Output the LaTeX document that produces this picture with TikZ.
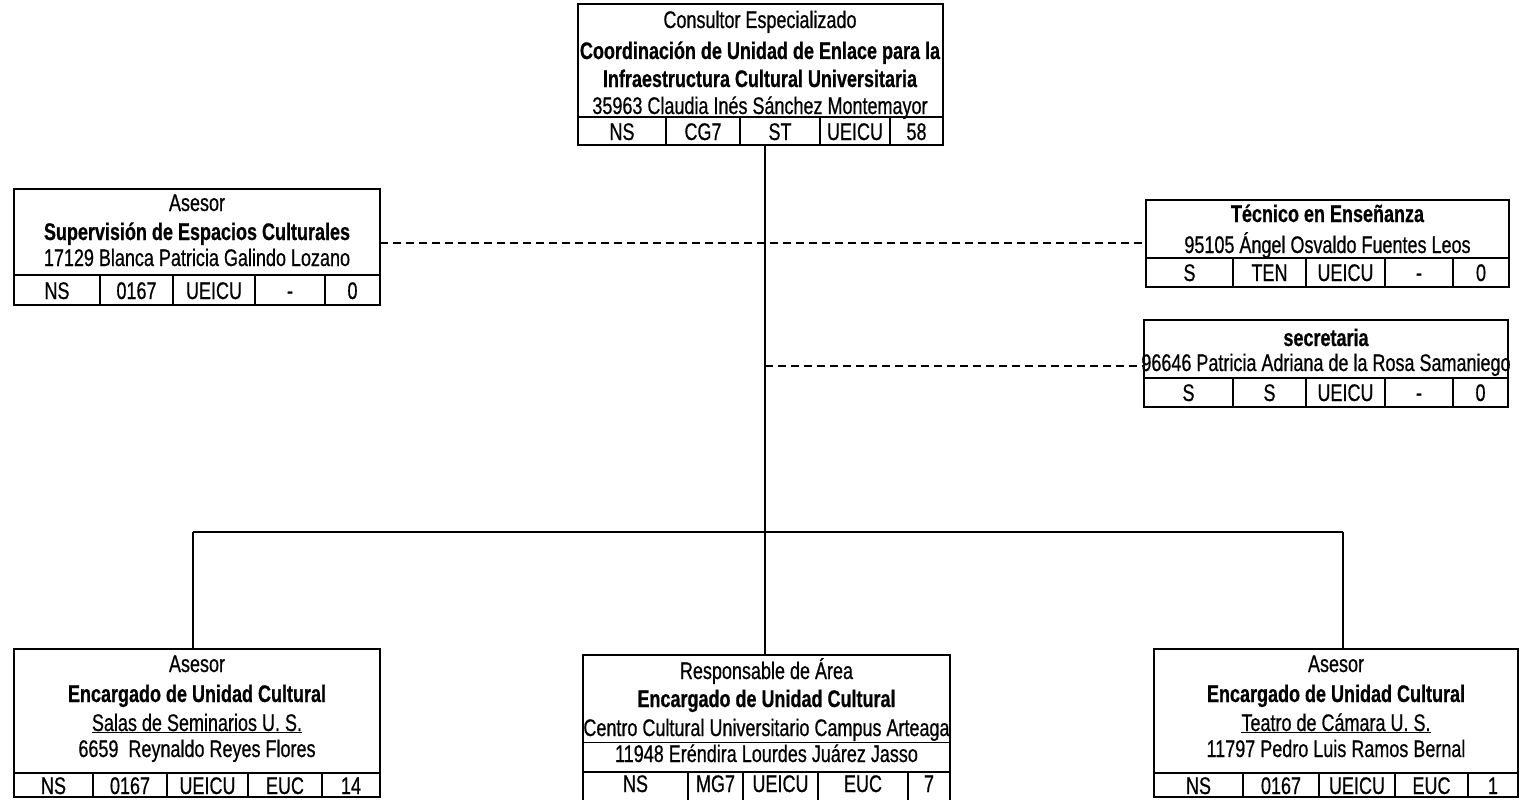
\documentclass[tikz,border=0pt]{standalone}
\usepackage{fontspec}
\setmainfont{Liberation Sans}[FakeStretch=0.75, UprightFeatures={FakeBold=0.6}, BoldFeatures={FakeBold=0.6}]
\begin{document}
\begin{tikzpicture}[x=1pt,y=-1pt,
  box/.style={draw, line width=2pt, inner sep=0pt, outer sep=0pt, anchor=north west},
  grid/.style={line width=1.6pt},
  conn/.style={line width=1.6pt},
  dconn/.style={line width=1.5pt, dash pattern=on 8pt off 5pt},
  t/.style={inner sep=0pt, anchor=base, font=\fontsize{24}{28}\selectfont},
  tb/.style={inner sep=0pt, anchor=base, font=\fontsize{24}{28}\selectfont\bfseries}]
\fill[white] (0,0) rectangle (1520,800);
\clip (0,0) rectangle (1520,800);
\useasboundingbox (0,0) rectangle (1520,800);

% ---------- boxes ----------
\node[box, minimum width=365, minimum height=141] (top) at (578,4) {};
\node[box, minimum width=366, minimum height=116] (adv) at (14,189) {};
\node[box, minimum width=363, minimum height=87] (tec) at (1146,200) {};
\node[box, minimum width=364, minimum height=87] (sec) at (1144,320) {};
\node[box, minimum width=366, minimum height=148] (bl) at (14,649) {};
\node[box, minimum width=367, minimum height=170] (bc) at (583,655) {};
\node[box, minimum width=364, minimum height=148] (br) at (1154,649) {};

% ---------- top box ----------
\draw[grid] (578,117) -- (943,117);
\foreach \x in {666,740,820,890} \draw[grid] (\x,117) -- (\x,145);
\node[t]  (top1) at (760,28)  {Consultor Especializado};
\node[tb] (top2) at (760,59)  {Coordinación de Unidad de Enlace para la};
\node[tb] (top3) at (760,87)  {Infraestructura Cultural Universitaria};
\node[t]  (top4) at (760,114) {35963 Claudia Inés Sánchez Montemayor};
\node[t] (topc1) at (622,140) {NS};
\node[t] (topc2) at (703,140) {CG7};
\node[t] (topc3) at (780,140) {ST};
\node[t] (topc4) at (855,140) {UEICU};
\node[t] (topc5) at (916.5,140) {58};

% ---------- asesor (supervision) ----------
\draw[grid] (14,275) -- (380,275);
\foreach \x in {100,173,255,325} \draw[grid] (\x,275) -- (\x,305);
\node[t]  (adv1) at (197,211) {Asesor};
\node[tb] (adv2) at (197,240) {Supervisión de Espacios Culturales};
\node[t]  (adv3) at (197,266) {17129 Blanca Patricia Galindo Lozano};
\node[t] (advc1) at (57,299) {NS};
\node[t] (advc2) at (136.5,299) {0167};
\node[t] (advc3) at (214,299) {UEICU};
\node[t] (advc4) at (290,299) {-};
\node[t] (advc5) at (352.5,299) {0};

% ---------- tecnico ----------
\draw[grid] (1146,258) -- (1509,258);
\foreach \x in {1233,1306,1385,1453} \draw[grid] (\x,258) -- (\x,287);
\node[tb] (tec1) at (1327.5,222) {Técnico en Enseñanza};
\node[t]  (tec2) at (1327.5,253) {95105 Ángel Osvaldo Fuentes Leos};
\node[t] (tecc1) at (1189.5,281) {S};
\node[t] (tecc2) at (1269.5,281) {TEN};
\node[t] (tecc3) at (1345.5,281) {UEICU};
\node[t] (tecc4) at (1419,281) {-};
\node[t] (tecc5) at (1481,281) {0};

% ---------- secretaria ----------
\draw[grid] (1144,378) -- (1508,378);
\foreach \x in {1233,1306,1385,1453} \draw[grid] (\x,378) -- (\x,407);
\node[tb] (sec1) at (1326,346) {secretaria};
\node[t]  (sec2) at (1326,371) {96646 Patricia Adriana de la Rosa Samaniego};
\node[t] (secc1) at (1188.5,401) {S};
\node[t] (secc2) at (1269.5,401) {S};
\node[t] (secc3) at (1345.5,401) {UEICU};
\node[t] (secc4) at (1419,401) {-};
\node[t] (secc5) at (1480.5,401) {0};

% ---------- bottom left ----------
\draw[grid] (14,773) -- (380,773);
\foreach \x in {93,167,248,322} \draw[grid] (\x,773) -- (\x,797);
\node[t]  (bl1) at (197,672) {Asesor};
\node[tb] (bl2) at (197,702) {Encargado de Unidad Cultural};
\node[t]  (bl3) at (197,731) {\underline{Salas de Seminarios U. S.}};
\node[t]  (bl4) at (197,757) {6659\ \ Reynaldo Reyes Flores};
\node[t] (blc1) at (53.5,794) {NS};
\node[t] (blc2) at (130,794) {0167};
\node[t] (blc3) at (207.5,794) {UEICU};
\node[t] (blc4) at (285,794) {EUC};
\node[t] (blc5) at (351,794) {14};

% ---------- bottom center ----------
\draw[grid] (583,772) -- (950,772);
\foreach \x in {688,743,818,908} \draw[grid] (\x,772) -- (\x,805);
\node[t]  (bc1) at (766.5,679) {Responsable de Área};
\node[tb] (bc2) at (766.5,707) {Encargado de Unidad Cultural};
\node[t]  (bc3) at (766.5,736) {\underline{Centro Cultural Universitario Campus Arteaga}};
\node[t]  (bc4) at (766.5,762) {11948 Eréndira Lourdes Juárez Jasso};
\node[t] (bcc1) at (635.5,792) {NS};
\node[t] (bcc2) at (715.5,792) {MG7};
\node[t] (bcc3) at (780.5,792) {UEICU};
\node[t] (bcc4) at (863,792) {EUC};
\node[t] (bcc5) at (929,792) {7};

% ---------- bottom right ----------
\draw[grid] (1154,773) -- (1518,773);
\foreach \x in {1243,1319,1395,1468} \draw[grid] (\x,773) -- (\x,797);
\node[t]  (br1) at (1336,672) {Asesor};
\node[tb] (br2) at (1336,702) {Encargado de Unidad Cultural};
\node[t]  (br3) at (1336,731) {\underline{Teatro de Cámara U. S.}};
\node[t]  (br4) at (1336,757) {11797 Pedro Luis Ramos Bernal};
\node[t] (brc1) at (1198.5,794) {NS};
\node[t] (brc2) at (1281,794) {0167};
\node[t] (brc3) at (1357,794) {UEICU};
\node[t] (brc4) at (1431.5,794) {EUC};
\node[t] (brc5) at (1493,794) {1};

% ---------- connectors ----------
\coordinate (jc) at (765,532);
\coordinate (jl) at (193,532);
\coordinate (jr) at (1343,532);
\coordinate (d1) at (0,243);
\coordinate (d2) at (765,366);
\draw[conn] (top.south -| jc) -- (bc.north -| jc);
\draw[conn] (jl) -- (jr);
\draw[conn] (jl) -- (bl.north -| jl);
\draw[conn] (jr) -- (br.north -| jr);
\draw[dconn] (adv.east |- d1) -- (tec.west |- d1);
\draw[dconn] (d2) -- (sec.west |- d2);
\end{tikzpicture}
\end{document}
